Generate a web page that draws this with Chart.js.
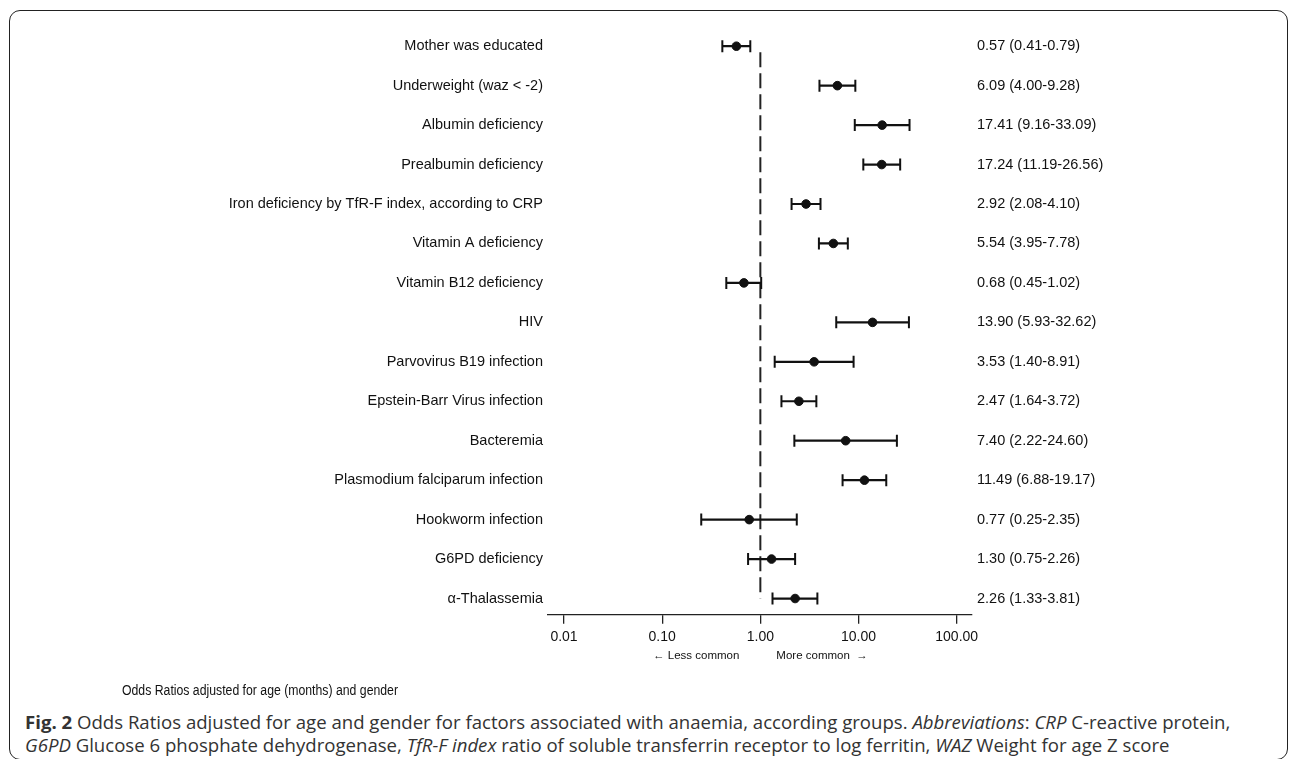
<!DOCTYPE html>
<html>
<head>
<meta charset="utf-8">
<script src="https://cdn.jsdelivr.net/npm/chart.js@4.4.1/dist/chart.umd.min.js"></script>
<style>
  html, body { margin: 0; padding: 0; background: #fff; overflow: hidden; }
  #frame {
    position: absolute; left: 9px; top: 10px; width: 1279px; height: 750px;
    border: 1.6px solid #222; border-radius: 11px; box-sizing: border-box;
  }
  #plot { position: absolute; left: 0; top: 0; width: 1292px; height: 700px; }
  #caption {
    position: absolute; left: 25px; top: 710px; width: 1260px;
    font-family: 'Open Sans', sans-serif; font-size: 18.6px; line-height: 23px; color: #333;
    white-space: nowrap;
  }
</style>
</head>
<body>
<div id="frame"></div>
<div id="plot"><canvas id="forest"></canvas></div>
<div id="caption"><b>Fig. 2</b> Odds Ratios adjusted for age and gender for factors associated with anaemia, according groups. <i>Abbreviations</i>: <i>CRP</i> C-reactive protein,<br><i>G6PD</i> Glucose 6 phosphate dehydrogenase, <i>TfR-F index</i> ratio of soluble transferrin receptor to log ferritin, <i>WAZ</i> Weight for age Z score</div>
<script>
const FONT = "'Liberation Sans', Arial, sans-serif";
const INK  = '#111';

Chart.defaults.font.family = FONT;

// data
const factors = [
  'Mother was educated', 'Underweight (waz < -2)', 'Albumin deficiency', 'Prealbumin deficiency',
  'Iron deficiency by TfR-F index, according to CRP', 'Vitamin A deficiency', 'Vitamin B12 deficiency',
  'HIV', 'Parvovirus B19 infection', 'Epstein-Barr Virus infection', 'Bacteremia',
  'Plasmodium falciparum infection', 'Hookworm infection', 'G6PD deficiency', '\u03b1-Thalassemia'
];
const oddsRatio = [0.57, 6.09, 17.41, 17.24, 2.92, 5.54, 0.68, 13.90, 3.53, 2.47, 7.40, 11.49, 0.77, 1.30, 2.26];
const ciLow     = [0.41, 4.00, 9.16, 11.19, 2.08, 3.95, 0.45, 5.93, 1.40, 1.64, 2.22, 6.88, 0.25, 0.75, 1.33];
const ciHigh    = [0.79, 9.28, 33.09, 26.56, 4.10, 7.78, 1.02, 32.62, 8.91, 3.72, 24.60, 19.17, 2.35, 2.26, 3.81];
const xTicks    = [0.01, 0.1, 1, 10, 100];

const orText = oddsRatio.map((v, i) =>
  `${v.toFixed(2)} (${ciLow[i].toFixed(2)}-${ciHigh[i].toFixed(2)})`);

const whiskers = factors.map((f, i) => ({
  type: 'line',
  data: [{ x: ciLow[i], y: i }, { x: ciHigh[i], y: i }],
  borderColor: INK, borderWidth: 2.2,
  pointStyle: 'line', pointRotation: 90, pointRadius: 6,
  pointBorderColor: INK, pointBorderWidth: 2,
  order: 2
}));

// text under the axis
const notes = {
  id: 'notes',
  afterDraw(chart) {
    const { ctx, scales: { x } } = chart;
    const p1 = x.getPixelForValue(1);
    ctx.save();
    ctx.fillStyle = INK;
    ctx.textBaseline = 'middle';
    ctx.font = '11.5px ' + FONT;
    ctx.textAlign = 'right';
    ctx.fillText('\u2190 Less common', p1 - 21, 656);
    ctx.textAlign = 'left';
    ctx.fillText('More common  \u2192', p1 + 16, 656);
    // narrow-looking footnote, squeezed to the reference width
    const note = 'Odds Ratios adjusted for age (months) and gender';
    ctx.font = '14px ' + FONT;
    const k = 276 / ctx.measureText(note).width;
    ctx.translate(122, 691);
    ctx.scale(k, 1);
    ctx.fillText(note, 0, 0);
    ctx.restore();
  }
};

const rowAxis = (pos, texts, width) => ({
  type: 'linear', position: pos, reverse: true,
  min: -0.824, max: 14.41,
  afterBuildTicks: s => { s.ticks = texts.map((_, i) => ({ value: i })); },
  afterFit: s => { s.width = width; },
  grid: { display: false, drawTicks: false, tickLength: 0 }, border: { display: false },
  ticks: { color: INK, font: { size: 14.5 }, padding: 5, autoSkip: false,
           callback: v => texts[v] }
});

new Chart(document.getElementById('forest'), {
  type: 'scatter',
  data: {
    datasets: [
      {
        type: 'scatter',
        data: oddsRatio.map((v, i) => ({ x: v, y: i })),
        pointRadius: 4.3, pointBackgroundColor: INK, pointBorderColor: INK, pointBorderWidth: 1,
        order: 0
      },
      ...whiskers,
      {
        type: 'line',
        data: [{ x: 1, y: 0.15 }, { x: 1, y: 14 }],
        borderColor: '#222', borderWidth: 2, borderDash: [15, 6], pointRadius: 0,
        order: 3
      }
    ]
  },
  options: {
    responsive: true, maintainAspectRatio: false, animation: false,
    layout: { padding: { top: 10, left: 0, right: 0, bottom: 0 } },
    plugins: { legend: { display: false }, tooltip: { enabled: false } },
    scales: {
      x: {
        type: 'logarithmic', min: 0.00687, max: 143.2,
        afterBuildTicks: s => { s.ticks = xTicks.map(v => ({ value: v })); },
        afterFit: s => { s.height = 700 - 614.7; },
        grid: { drawOnChartArea: false, drawTicks: true, tickLength: 9, color: '#222', lineWidth: 1.3 },
        border: { display: true, color: '#222', width: 1.3 },
        ticks: { color: INK, font: { size: 14 }, padding: 5, autoSkip: false, maxRotation: 0,
                 callback: v => Number(v).toFixed(2) }
      },
      y: rowAxis('left', factors, 548),
      y2: rowAxis('right', orText, 1292 - 972)
    }
  },
  plugins: [notes]
});
</script>
</body>
</html>
